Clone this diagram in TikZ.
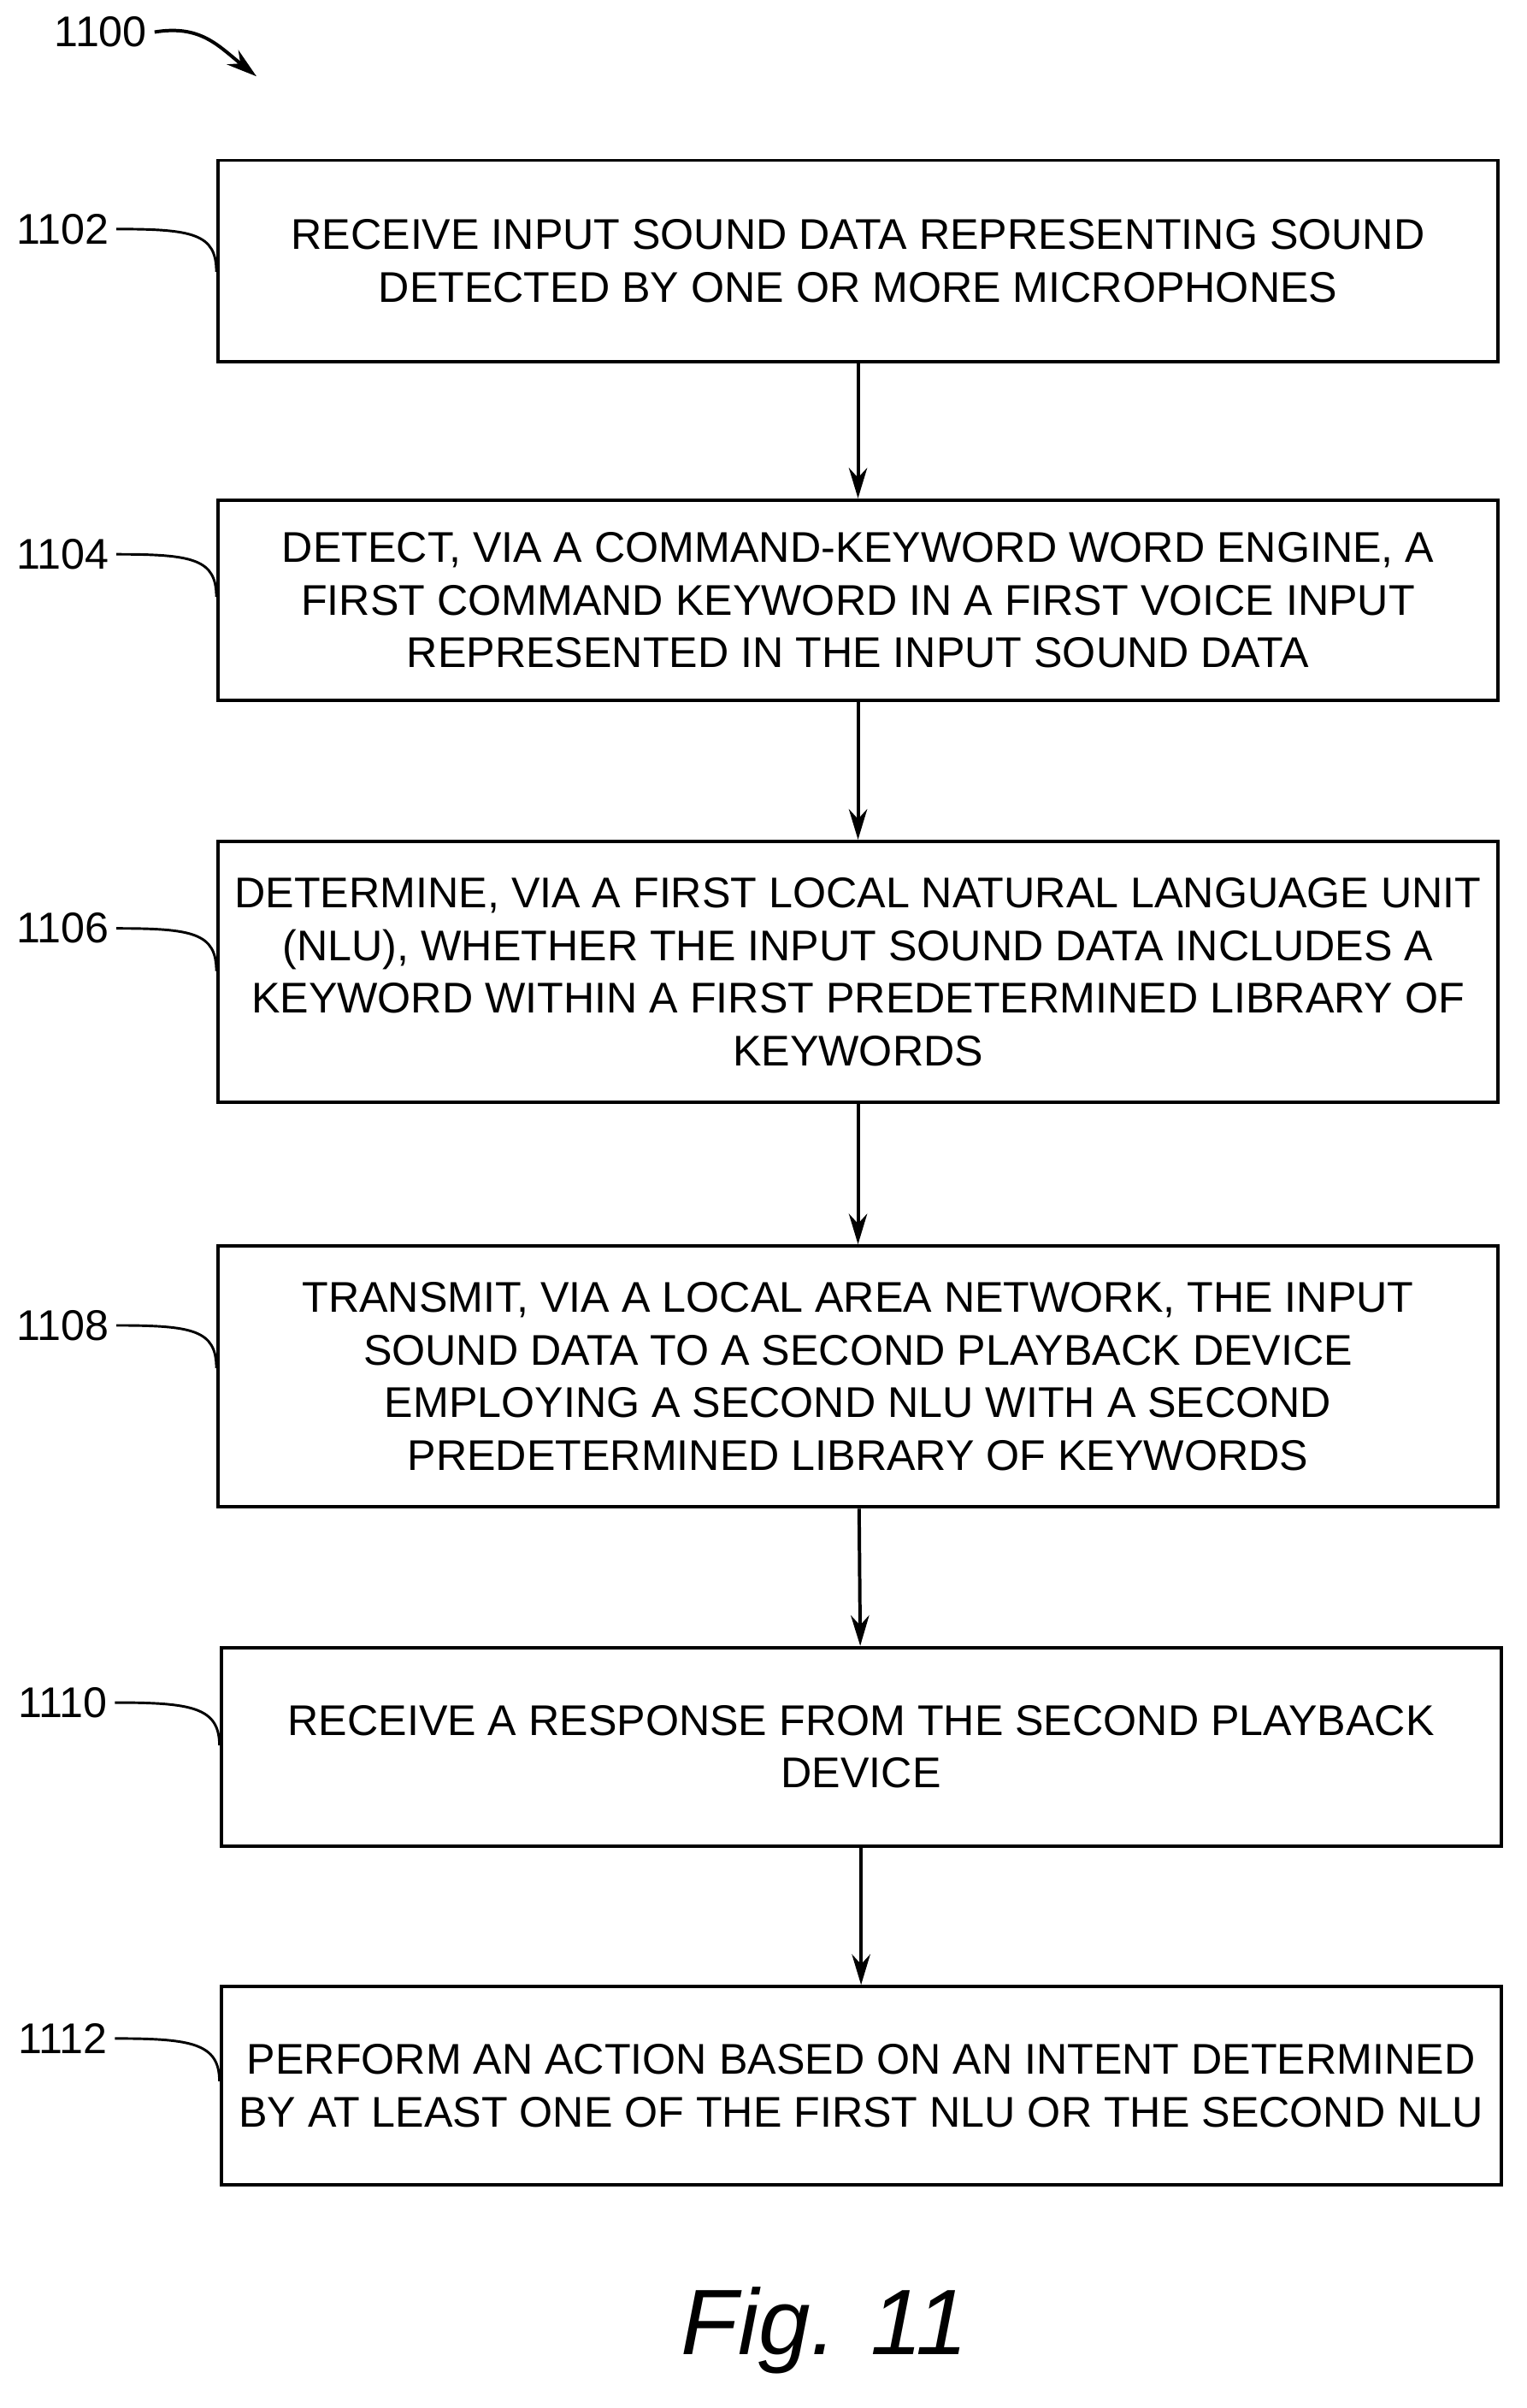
\documentclass[tikz,border=0pt]{standalone}
\usepackage{fontspec}
\setmainfont{Liberation Sans}
\usetikzlibrary{arrows.meta, positioning}
\begin{document}
\begin{tikzpicture}[
    x=0.3mm, y=-0.3mm,
    line width=1.9pt,
    >={Stealth[length=6mm,width=3.6mm]},
    stepbox/.style={draw, rectangle, minimum width=251.5mm, align=center,
        font=\fontsize{24}{29.5}\selectfont},
    ref/.style={font=\fontsize{24}{29}\selectfont},
]
\useasboundingbox (0,0) rectangle (1000,1577);
% Boxes
\node[stepbox, minimum height=39.6mm] (b1) at (562,171) {RECEIVE INPUT SOUND DATA REPRESENTING SOUND\\DETECTED BY ONE OR MORE MICROPHONES};
\node[stepbox, minimum height=39.3mm] (b2) at (562,393) {DETECT, VIA A COMMAND-KEYWORD WORD ENGINE, A\\FIRST COMMAND KEYWORD IN A FIRST VOICE INPUT\\REPRESENTED IN THE INPUT SOUND DATA};
\node[stepbox, minimum height=51.3mm] (b3) at (562,636.5) {DETERMINE, VIA A FIRST LOCAL NATURAL LANGUAGE UNIT\\(NLU), WHETHER THE INPUT SOUND DATA INCLUDES A\\KEYWORD WITHIN A FIRST PREDETERMINED LIBRARY OF\\KEYWORDS};
\node[stepbox, minimum height=51.3mm] (b4) at (562,901.5) {TRANSMIT, VIA A LOCAL AREA NETWORK, THE INPUT\\SOUND DATA TO A SECOND PLAYBACK DEVICE\\EMPLOYING A SECOND NLU WITH A SECOND\\PREDETERMINED LIBRARY OF KEYWORDS};
\node[stepbox, minimum height=39mm] (b5) at (564,1144) {RECEIVE A RESPONSE FROM THE SECOND PLAYBACK\\DEVICE};
\node[stepbox, minimum height=39mm] (b6) at (564,1366) {PERFORM AN ACTION BASED ON AN INTENT DETERMINED\\BY AT LEAST ONE OF THE FIRST NLU OR THE SECOND NLU};
% Arrows
\draw[->] (b1) -- (b2);
\draw[->] (b2) -- (b3);
\draw[->] (b3) -- (b4);
\draw[->] (b4) -- (b5);
\draw[->] (b5) -- (b6);
% Reference numerals
\node[ref] (r1100) at (66,21) {1100};
\coordinate (t1100) at (168,50);
\draw[->] (r1100.east) .. controls +(30,-5) and +(-25,-20) .. (t1100);
\foreach \nm/\yy/\bx in {1102/150/b1, 1104/363/b2, 1106/608/b3, 1108/868/b4, 1110/1115/b5, 1112/1335/b6}{
  \node[ref] (r\nm) at (41,\yy) {\nm};
  \draw[line width=1.4pt] (r\nm.east) .. controls +(50,0) and +(0,-25) .. (\bx.west |- 0,\yy+28);
}
\node[font=\fontsize{52}{62}\selectfont\itshape] (fig) at (540,1526) {Fig. 11};
\end{tikzpicture}
\end{document}
